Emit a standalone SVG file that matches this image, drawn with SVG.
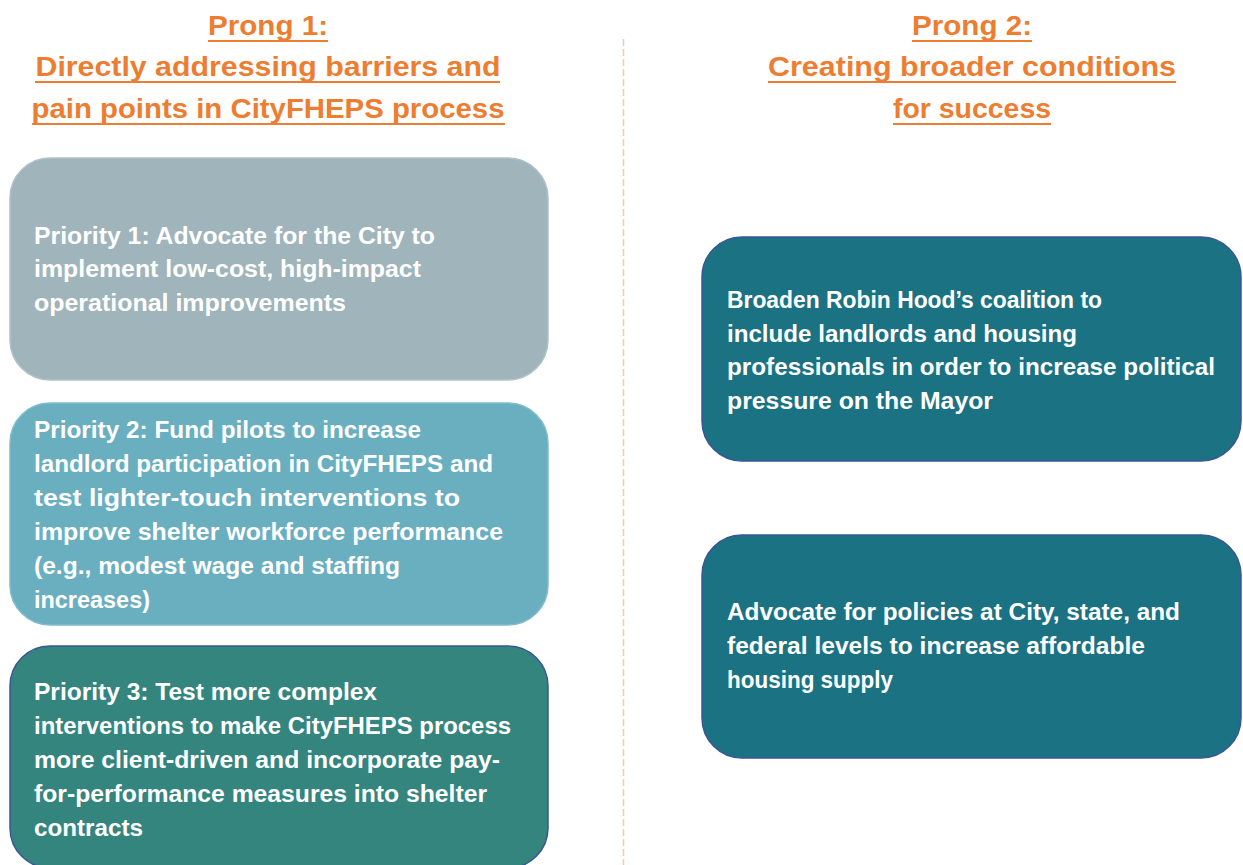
<svg xmlns="http://www.w3.org/2000/svg" width="1243" height="865" viewBox="0 0 1243 865">
<style>
.head{font-family:"Liberation Sans",Arial,sans-serif;font-weight:bold;font-size:28px;fill:#ed7d31;text-anchor:middle}
.ul{stroke:#ed7d31;stroke-width:2}
.body{font-family:"Liberation Sans",Arial,sans-serif;font-weight:bold;font-size:23px;fill:#ffffff}
.box{stroke-width:1.5}
</style>
<rect width="1243" height="865" fill="#ffffff"/>
<line x1="623.5" y1="39" x2="623.5" y2="865" stroke="#f8c8a6" stroke-width="1.5" stroke-dasharray="7,3"/>
<g id="heading1">
<text class="head" x="268" y="35" textLength="120" lengthAdjust="spacingAndGlyphs">Prong 1:</text>
<line class="ul" x1="208" y1="41" x2="328" y2="41"/>
<text class="head" x="268" y="76" textLength="465" lengthAdjust="spacingAndGlyphs">Directly addressing barriers and</text>
<line class="ul" x1="35" y1="82" x2="500" y2="82"/>
<text class="head" x="268" y="118" textLength="473" lengthAdjust="spacingAndGlyphs">pain points in CityFHEPS process</text>
<line class="ul" x1="32" y1="124" x2="505" y2="124"/>
</g>
<g id="heading2">
<text class="head" x="972" y="35" textLength="120" lengthAdjust="spacingAndGlyphs">Prong 2:</text>
<line class="ul" x1="912" y1="41" x2="1032" y2="41"/>
<text class="head" x="972" y="76" textLength="408" lengthAdjust="spacingAndGlyphs">Creating broader conditions</text>
<line class="ul" x1="768" y1="82" x2="1176" y2="82"/>
<text class="head" x="972" y="118" textLength="158" lengthAdjust="spacingAndGlyphs">for success</text>
<line class="ul" x1="893" y1="124" x2="1051" y2="124"/>
</g>
<g id="priority1">
<rect class="box" x="10" y="158" width="538" height="222" rx="40" fill="#9fb4bb" stroke="#b0c2c8"/>
<text class="body" x="34" y="244" textLength="401" lengthAdjust="spacingAndGlyphs">Priority 1: Advocate for the City to</text>
<text class="body" x="34" y="277" textLength="387" lengthAdjust="spacingAndGlyphs">implement low-cost, high-impact</text>
<text class="body" x="34" y="311" textLength="312" lengthAdjust="spacingAndGlyphs">operational improvements</text>
</g>
<g id="priority2">
<rect class="box" x="10" y="403" width="538" height="222" rx="40" fill="#6aafc0" stroke="#80bccb"/>
<text class="body" x="34" y="438" textLength="387" lengthAdjust="spacingAndGlyphs">Priority 2: Fund pilots to increase</text>
<text class="body" x="34" y="472" textLength="459" lengthAdjust="spacingAndGlyphs">landlord participation in CityFHEPS and</text>
<text class="body" x="34" y="506" textLength="426" lengthAdjust="spacingAndGlyphs">test lighter-touch interventions to</text>
<text class="body" x="34" y="540" textLength="469" lengthAdjust="spacingAndGlyphs">improve shelter workforce performance</text>
<text class="body" x="34" y="574" textLength="366" lengthAdjust="spacingAndGlyphs">(e.g., modest wage and staffing</text>
<text class="body" x="34" y="608" textLength="116" lengthAdjust="spacingAndGlyphs">increases)</text>
</g>
<g id="priority3">
<rect class="box" x="10" y="646" width="538" height="222" rx="40" fill="#35857f" stroke="#3b5596"/>
<text class="body" x="34" y="700" textLength="343" lengthAdjust="spacingAndGlyphs">Priority 3: Test more complex</text>
<text class="body" x="34" y="734" textLength="477" lengthAdjust="spacingAndGlyphs">interventions to make CityFHEPS process</text>
<text class="body" x="34" y="768" textLength="466" lengthAdjust="spacingAndGlyphs">more client-driven and incorporate pay-</text>
<text class="body" x="34" y="802" textLength="453" lengthAdjust="spacingAndGlyphs">for-performance measures into shelter</text>
<text class="body" x="34" y="836" textLength="109" lengthAdjust="spacingAndGlyphs">contracts</text>
</g>
<g id="prong2a">
<rect class="box" x="702" y="237" width="539" height="224" rx="40" fill="#1b7283" stroke="#3b5596"/>
<text class="body" x="727" y="308" textLength="375" lengthAdjust="spacingAndGlyphs">Broaden Robin Hood’s coalition to</text>
<text class="body" x="727" y="342" textLength="350" lengthAdjust="spacingAndGlyphs">include landlords and housing</text>
<text class="body" x="727" y="375" textLength="488" lengthAdjust="spacingAndGlyphs">professionals in order to increase political</text>
<text class="body" x="727" y="409" textLength="266" lengthAdjust="spacingAndGlyphs">pressure on the Mayor</text>
</g>
<g id="prong2b">
<rect class="box" x="702" y="535" width="539" height="223" rx="40" fill="#1b7283" stroke="#3b5596"/>
<text class="body" x="727" y="620" textLength="453" lengthAdjust="spacingAndGlyphs">Advocate for policies at City, state, and</text>
<text class="body" x="727" y="654" textLength="418" lengthAdjust="spacingAndGlyphs">federal levels to increase affordable</text>
<text class="body" x="727" y="688" textLength="166" lengthAdjust="spacingAndGlyphs">housing supply</text>
</g>
<g id="connectors"/>
</svg>
